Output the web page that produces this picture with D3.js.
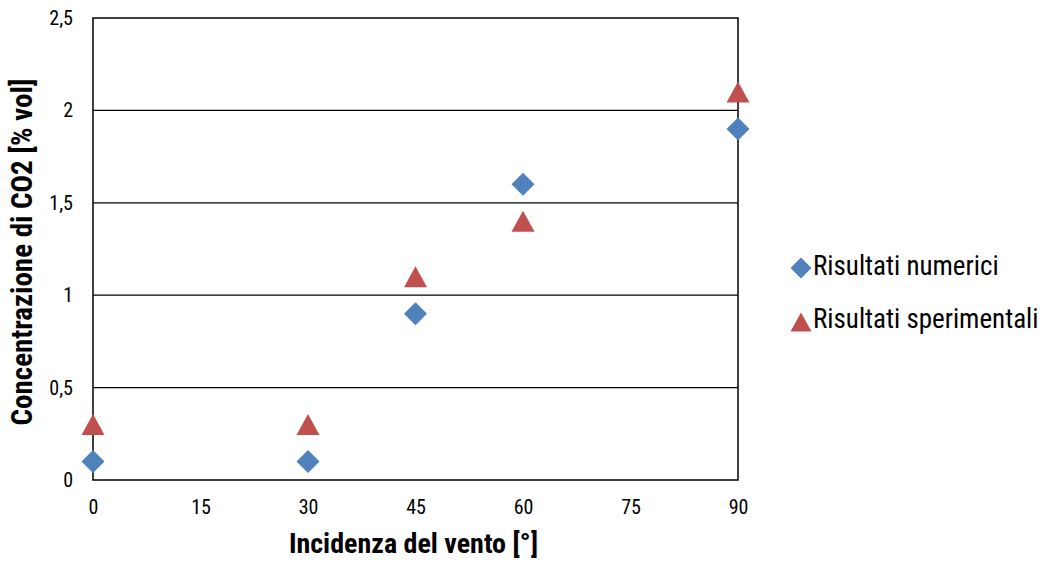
<!DOCTYPE html>
<html>
<head>
<meta charset="utf-8">
<script src="https://cdn.jsdelivr.net/npm/d3@7"></script>
<style>
  html, body { margin: 0; padding: 0; background: #fff; }
  svg { display: block; }
  text { font-family: "Liberation Sans Narrow", "Roboto Condensed", "Liberation Sans", sans-serif; fill: #000; }
</style>
</head>
<body>
<svg id="chart" width="1050" height="563"></svg>
<script>
// Wind incidence angles (degrees) and CO2 concentrations (% vol)
const anglesNumerici = [0, 30, 45, 60, 90];
const valuesNumerici = [0.1, 0.1, 0.9, 1.6, 1.9];
const anglesSperimentali = [0, 30, 45, 60, 90];
const valuesSperimentali = [0.3, 0.3, 1.1, 1.4, 2.1];

const xTicks = [0, 15, 30, 45, 60, 75, 90];
const yTicks = [0, 0.5, 1, 1.5, 2, 2.5];
const seriesNames = ["Risultati numerici", "Risultati sperimentali"];

const svg = d3.select("#chart");
const plot = { left: 93, right: 738, top: 18, bottom: 480 };

const x = d3.scaleLinear().domain([0, 90]).range([plot.left, plot.right]);
const y = d3.scaleLinear().domain([0, 2.5]).range([plot.bottom, plot.top]);
const fmt = d => d3.format("")(d).replace(".", ",");

// Marker shapes: diamond and triangle centred on their bounding box
const diamondPath = s => `M0,${-s/2}L${s/2},0L0,${s/2}L${-s/2},0Z`;
const trianglePath = (w, h) => `M0,${-h/2}L${w/2},${h/2}L${-w/2},${h/2}Z`;

// Horizontal gridlines
svg.append("g").selectAll("line").data(yTicks.filter(d => d > 0 && d < 2.5)).join("line")
  .attr("x1", plot.left).attr("x2", plot.right)
  .attr("y1", d => y(d)).attr("y2", d => y(d))
  .attr("stroke", "#000").attr("stroke-width", 1.3);

// Plot frame
svg.append("rect")
  .attr("x", plot.left).attr("y", plot.top)
  .attr("width", plot.right - plot.left).attr("height", plot.bottom - plot.top)
  .attr("fill", "none").attr("stroke", "#000").attr("stroke-width", 1.5);

// Y axis tick labels
const yAxis = d3.axisLeft(y).tickValues(yTicks).tickFormat(fmt).tickSize(0).tickPadding(20);
const gy = svg.append("g").attr("transform", `translate(${plot.left},0)`).call(yAxis);
gy.select(".domain").remove();
gy.selectAll("text").attr("font-size", 20).attr("font-family", null);

// X axis tick labels
const xAxis = d3.axisBottom(x).tickValues(xTicks).tickFormat(fmt).tickSize(0).tickPadding(20);
const gx = svg.append("g").attr("transform", `translate(0,${plot.bottom})`).call(xAxis);
gx.select(".domain").remove();
gx.selectAll("text").attr("font-size", 20).attr("font-family", null).attr("y", 20);

// Axis titles
svg.append("text")
  .attr("x", (plot.left + plot.right) / 2 - 2).attr("y", 553)
  .attr("text-anchor", "middle").attr("font-size", 28).attr("font-weight", "bold")
  .text("Incidenza del vento [°]");

svg.append("text")
  .attr("transform", `translate(32,252) rotate(-90)`)
  .attr("text-anchor", "middle").attr("font-size", 29).attr("font-weight", "bold")
  .text("Concentrazione di CO2 [% vol]");

// Markers
svg.append("g").selectAll("path").data(anglesSperimentali.map((a, i) => [a, valuesSperimentali[i]])).join("path")
  .attr("d", trianglePath(23, 21))
  .attr("transform", d => `translate(${x(d[0])},${y(d[1])})`)
  .attr("fill", "#C0504D");

svg.append("g").selectAll("path").data(anglesNumerici.map((a, i) => [a, valuesNumerici[i]])).join("path")
  .attr("d", diamondPath(23))
  .attr("transform", d => `translate(${x(d[0])},${y(d[1])})`)
  .attr("fill", "#4F81BD");

// Legend
const legend = svg.append("g");
const legendItems = [
  { name: seriesNames[0], d: diamondPath(21), color: "#4F81BD", cy: 268, base: 275 },
  { name: seriesNames[1], d: trianglePath(21, 19), color: "#C0504D", cy: 322, base: 328 }
];
legendItems.forEach(it => {
  legend.append("path")
    .attr("d", it.d)
    .attr("transform", `translate(801,${it.cy})`)
    .attr("fill", it.color);
  legend.append("text")
    .attr("x", 813).attr("y", it.base)
    .attr("font-size", 27)
    .text(it.name);
});
</script>
</body>
</html>
